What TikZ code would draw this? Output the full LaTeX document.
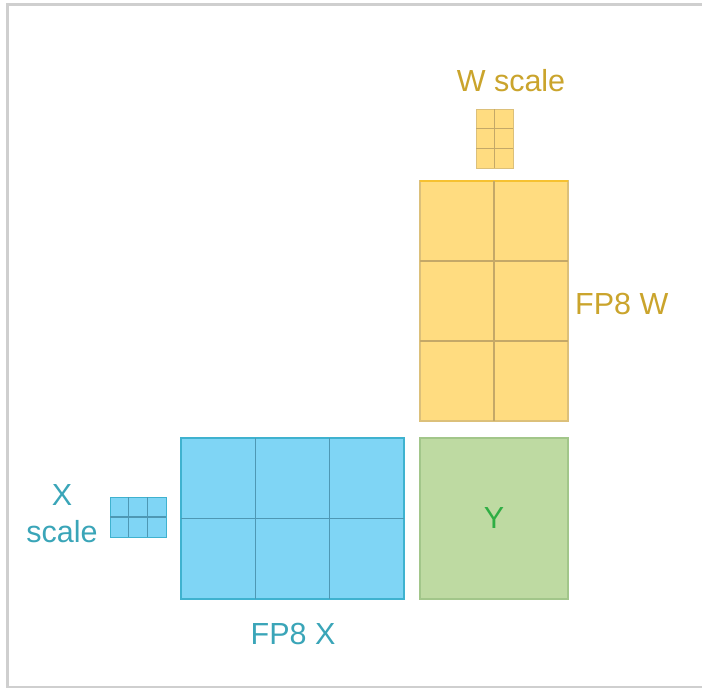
\documentclass[tikz,border=0pt]{standalone}
\usepackage{fontspec}
\setmainfont{Liberation Sans}
\usetikzlibrary{calc}
\definecolor{framegray}{HTML}{CFCFCF}
\definecolor{xfill}{HTML}{7FD5F5}
\definecolor{xedge}{HTML}{3FB2CF}
\definecolor{xgrid}{HTML}{4E98B4}
\definecolor{xtext}{HTML}{3AA5B8}
\definecolor{wfill}{HTML}{FFDC80}
\definecolor{wedge}{HTML}{DCC07A}
\definecolor{wtop}{HTML}{F6C131}
\definecolor{wgrid}{HTML}{C4A868}
\definecolor{wtext}{HTML}{CAA42C}
\definecolor{yfill}{HTML}{BEDAA2}
\definecolor{yedge}{HTML}{A2C68A}
\definecolor{ytext}{HTML}{2FAE44}
\tikzset{
  tile/.style={rectangle, inner sep=0pt, outer sep=0pt, line width=1.2pt},
  xtile/.style={tile, fill=xfill, draw=xedge},
  wtile/.style={tile, fill=wfill, draw=wedge},
  ytile/.style={tile, fill=yfill, draw=yedge},
  lbl/.style={font=\fontsize{30.5}{37}\selectfont, inner sep=0pt, align=center},
}
% grid of cols x rows inside a named node
\newcommand{\tilegrid}[4]{%
  \foreach \i in {1,...,\numexpr#2-1\relax}{%
    \draw[#4, line width=1.1pt] ($(#1.north west)!\i/#2!(#1.north east)$) -- ($(#1.south west)!\i/#2!(#1.south east)$);}
  \foreach \j in {1,...,\numexpr#3-1\relax}{%
    \draw[#4, line width=1.1pt] ($(#1.north west)!\j/#3!(#1.south west)$) -- ($(#1.north east)!\j/#3!(#1.south east)$);}
}
\begin{document}
\begin{tikzpicture}[x=1pt,y=-1pt]
\useasboundingbox (0,0) rectangle (702,688);
% outer frame, open on the right
\draw[framegray, line width=3pt] (702,4.5) -- (7.5,4.5) -- (7.5,687) -- (702,687);

% operand blocks
\node[wtile, minimum width=148pt, minimum height=240pt] (W) at (494,301) {};
\draw[wtop, line width=1.6pt] (W.north west) -- (W.north east);
\tilegrid{W}{2}{3}{wgrid}
\node[xtile, minimum width=223pt, minimum height=161pt] (X) at (292.5,518.5) {};
\tilegrid{X}{3}{2}{xgrid}
\node[ytile, minimum width=148pt, minimum height=161pt] (Y) at (494,518.5) {};
\node[lbl, text=ytext] (ylbl) at (Y.center) {Y};

% scale blocks
\node[wtile, line width=0.8pt, minimum width=37pt, minimum height=59pt] (WS) at (494.5,138.5) {};
\tilegrid{WS}{2}{3}{wgrid}
\node[xtile, line width=0.8pt, minimum width=56pt, minimum height=40pt] (XS) at (138,517) {};
\tilegrid{XS}{3}{2}{xgrid}

% labels
\node[lbl, text=wtext] (wslbl) at (511,81) {W scale};
\node[lbl, text=wtext, anchor=west] (wlbl) at (575,304) {FP8 W};
\node[lbl, text=xtext] (xlbl) at (293,634) {FP8 X};
\node[lbl, text=xtext] (xslbl) at (62,514) {X\\scale};
\end{tikzpicture}
\end{document}
